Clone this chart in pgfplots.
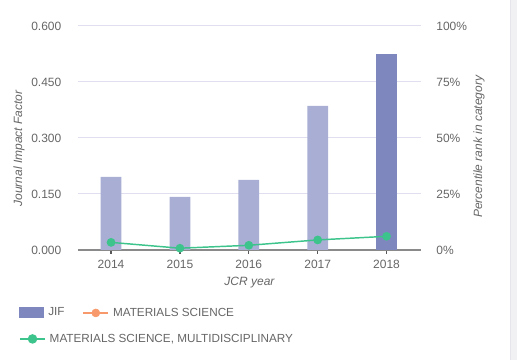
\documentclass[border=0pt]{standalone}
\usepackage{pgfplots}
\pgfplotsset{compat=1.18}
\usepackage{fontspec}
\setmainfont{Liberation Sans}
\definecolor{barlight}{HTML}{A9AED4}
\definecolor{bardark}{HTML}{7E87BE}
\definecolor{msgreen}{HTML}{3DC48C}
\definecolor{msorange}{HTML}{F7996A}
\definecolor{txtgray}{HTML}{666666}
\definecolor{gridc}{HTML}{DFDFEF}
\definecolor{axisc}{HTML}{8A8A8A}
\definecolor{stripc}{HTML}{F1F1F4}
\definecolor{stripe}{HTML}{E6E6EA}
\pgfplotsset{
  common/.style={
    at={(58.5pt,82.5pt)}, anchor=south west, scale only axis,
    width=257.25pt, height=168pt,
    xmin=-0.48, xmax=4.5,
    /pgf/number format/assume math mode=true,
    ticklabel style={txtgray, font=\fontsize{9}{11}\selectfont},
    label style={txtgray, font=\fontsize{9}{11}\selectfont\itshape},
    ytick style={draw=none},
    y axis line style={draw=none},
  }
}
\begin{document}
\begin{tikzpicture}
\path[use as bounding box] (0,0) rectangle (387.75pt,270pt);
\fill[stripc] (382.5pt,0) rectangle (387.75pt,270pt);
\draw[stripe, line width=0.75pt] (382.5pt,0) -- (382.5pt,270pt);
\begin{axis}[common,
  ymin=0, ymax=0.6,
  ytick={0,0.15,0.3,0.45,0.6},
  yticklabel style={xshift=-6pt, /pgf/number format/.cd, fixed, fixed zerofill, precision=3},
  ymajorgrids, grid style={gridc, line width=0.75pt},
  axis x line*=bottom, axis y line*=left,
  x axis line style={axisc, line width=1.1pt, -},
  xtick={0,1,2,3,4}, xticklabels={2014,2015,2016,2017,2018},
  xtick style={draw=black!65, line width=1pt},
  tick align=outside, major tick length=3pt,
  xticklabel style={yshift=-1pt},
  xlabel={JCR year},
  xlabel style={at={(axis description cs:0.5,-0.147)}, anchor=center},
  ylabel={Journal Impact Factor},
  ylabel style={at={(axis description cs:-0.172,0.453)}, anchor=center, rotate=0},
  legend columns=2,
  legend style={at={(axis description cs:-0.172,-0.281)}, anchor=west,
    draw=none, fill=none, inner sep=0pt, text=txtgray,
    font=\fontsize{8.8}{11}\selectfont,
    nodes={inner sep=3pt},
    /tikz/every even column/.append style={column sep=10.5pt}},
]
\addplot[ybar, bar width=0.30, bar shift=0pt, fill=barlight, draw=none, forget plot]
  coordinates {(0,0.196) (1,0.142) (2,0.188) (3,0.386)};
\addplot[ybar, bar width=0.30, bar shift=0pt, fill=bardark, draw=none,
  legend image code/.code={\fill[bardark] (0pt,-4.1pt) rectangle (18.75pt,4.1pt);}]
  coordinates {(4,0.525)};
\addlegendentry{JIF}
\addlegendimage{legend image code/.code={\draw[msorange,line width=1.1pt] (0pt,0pt) -- (18.75pt,0pt); \fill[msorange] (9.4pt,0pt) circle (3pt);}}
\addlegendentry{MATERIALS SCIENCE}
\end{axis}
\begin{axis}[common,
  ymin=0, ymax=100,
  axis y line*=right, axis x line=none,
  ytick={0,25,50,75,100},
  yticklabel={\pgfmathprintnumber{\tick}\%},
  yticklabel style={xshift=8pt},
  ylabel={Percentile rank in category},
  ylabel style={at={(axis description cs:1.169,0.46)}, anchor=center, rotate=0},
  legend style={at={(axis description cs:-0.172,-0.397)}, anchor=west,
    draw=none, fill=none, inner sep=0pt, text=txtgray,
    font=\fontsize{8.8}{11}\selectfont, nodes={inner sep=3pt}},
]
\addplot[msgreen, line width=1.1pt, mark=*, mark size=2.7pt, mark options={draw=msgreen, fill=msgreen},
  legend image code/.code={\draw[msgreen,line width=1.1pt] (0pt,0pt) -- (18.75pt,0pt); \fill[msgreen] (9.4pt,0pt) circle (3pt);}]
  coordinates {(0,3.4) (1,0.8) (2,2.1) (3,4.5) (4,6.1)};
\addlegendentry{MATERIALS SCIENCE, MULTIDISCIPLINARY}
\end{axis}
\end{tikzpicture}
\end{document}
